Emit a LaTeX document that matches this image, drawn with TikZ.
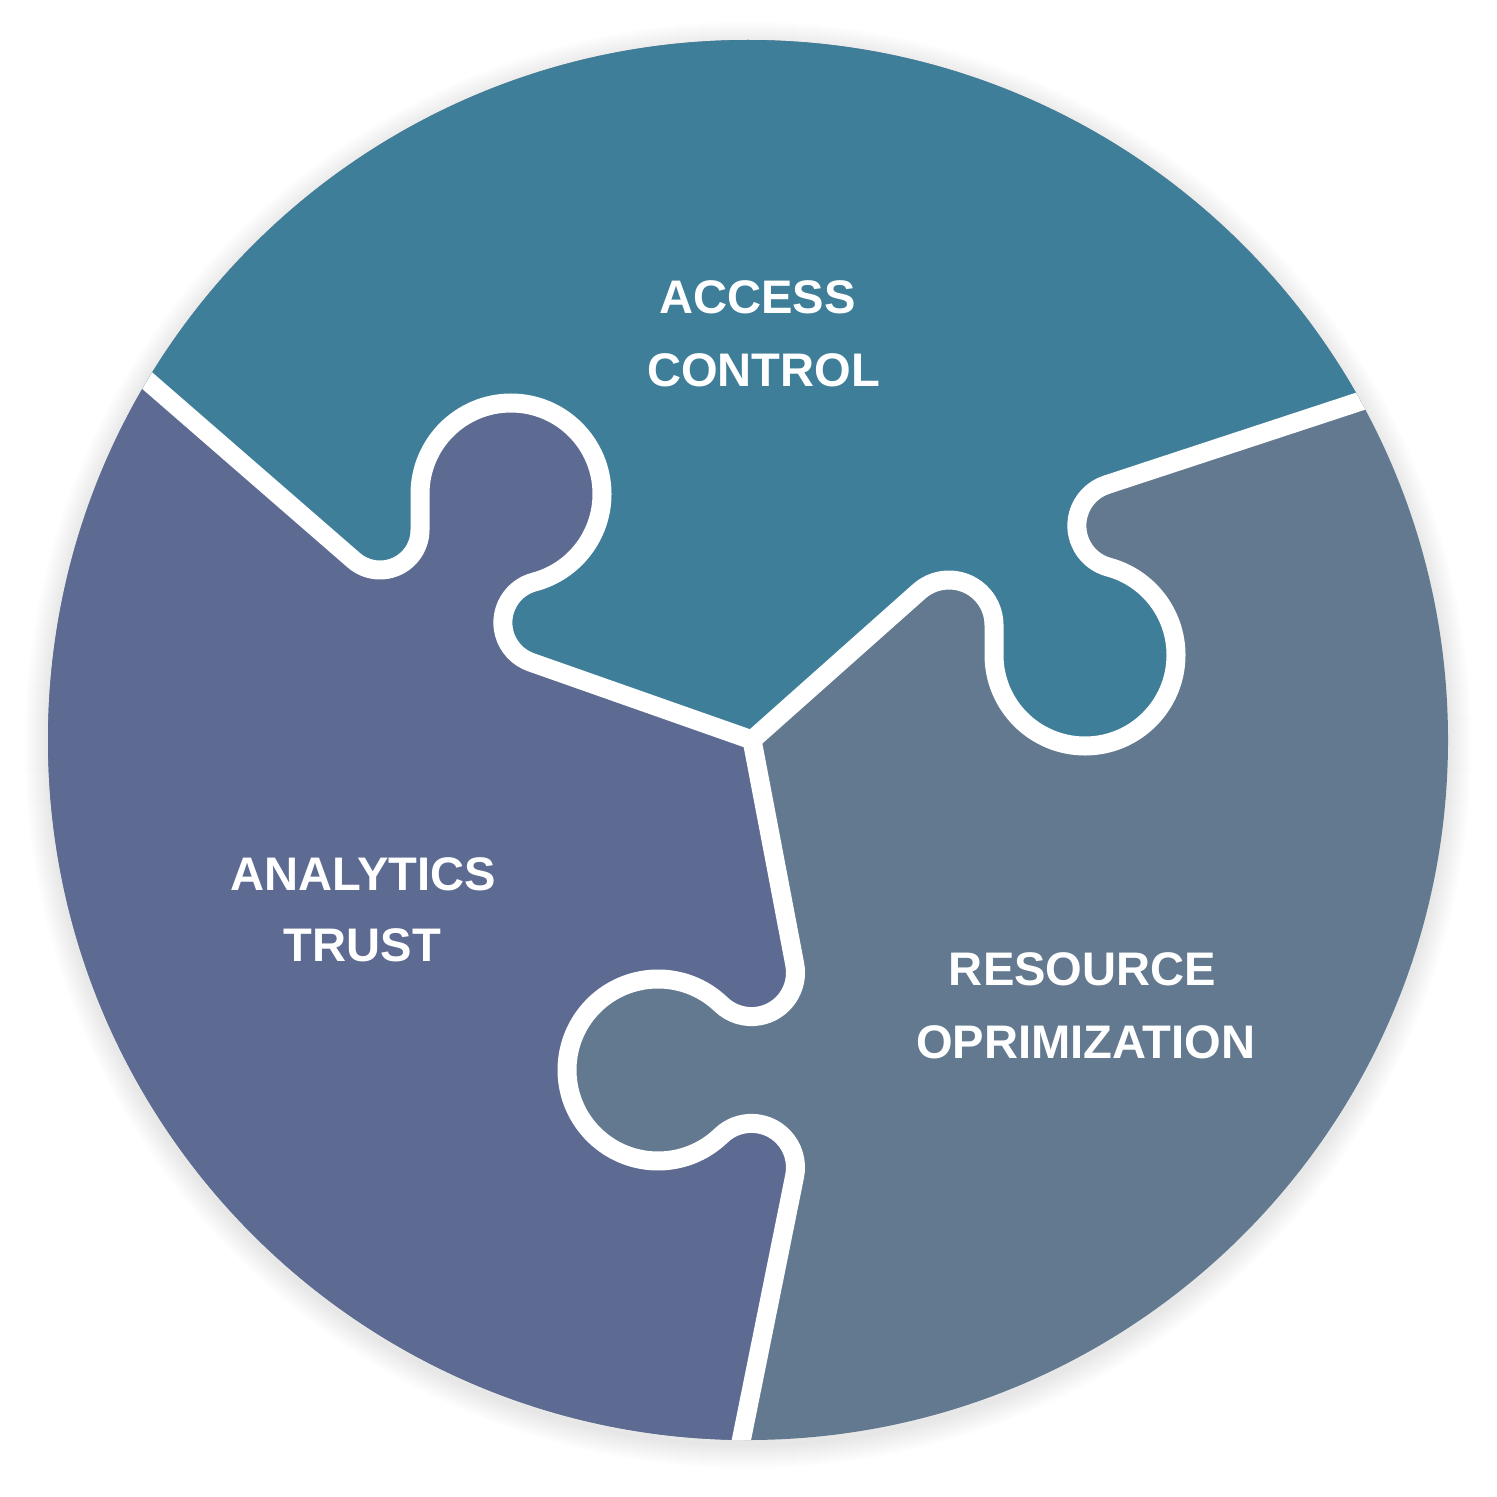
\documentclass[tikz,border=0pt]{standalone}
\usepackage{fontspec}
\setmainfont{Liberation Sans}
\usetikzlibrary{calc}
\definecolor{ctop}{RGB}{62,126,153}
\definecolor{cleft}{RGB}{93,106,146}
\definecolor{cright}{RGB}{98,121,144}
\definecolor{shadowc}{RGB}{60,70,85}
\begin{document}
\begin{tikzpicture}[x=0.01cm,y=-0.01cm,
  sep/.style={draw=white,line width=0.19cm,line join=round,line cap=round},
  lbl/.style={text=white,font=\bfseries\fontsize{13.4pt}{15pt}\selectfont,anchor=base,inner sep=0pt},
  lineA/.style={insert path={-- ($(S1)+(131:40)$) arc[start angle=131,end angle=0,radius=40] -- ($(K1)+(180:91)$) arc[start angle=180,end angle=435.25,radius=91] arc[start angle=255.25,end angle=109.38,radius=42] -- (J)}},
  lineB/.style={insert path={-- ($(S3)+(228.34:45)$) arc[start angle=228.34,end angle=360,radius=45] -- ($(K2)+(180:91)$) arc[start angle=180,end angle=-74.93,radius=91] arc[start angle=105.07,end angle=251.8,radius=43] -- (B1)}},
  lineC/.style={insert path={-- ($(S5)+(-10.78:44)$) arc[start angle=-10.78,end angle=133.83,radius=44] arc[start angle=-46.17,end angle=-313.83,radius=91] arc[start angle=226.17,end angle=371.4,radius=44] -- (C1)}}
]
\useasboundingbox (0,0) rectangle (1496,1497);
\fill[white] (0,0) rectangle (1496,1497);

\coordinate (O) at (748,740);
\coordinate (A0) at (82.1,324);
\coordinate (S1) at (380,530);
\coordinate (K1) at (511,494);
\coordinate (J) at (752,740);
\coordinate (S3) at (949,625);
\coordinate (K2) at (1085,655);
\coordinate (B1) at (1486.4,359.8);
\coordinate (S5) at (751.5,972.6);
\coordinate (C1) at (723.4,1528.9);

% soft shadow
\foreach \k in {1,...,24} {
  \fill[shadowc,opacity=0.005] (748,745) circle[radius={700+\k}];
}

\fill[cright] (O) circle[radius=700];
\begin{scope}
  \clip (O) circle[radius=700];
  \fill[ctop] (A0) [lineA] [lineB] -- (1600,360) -- (1600,-100) -- (-100,-100) -- (-100,324) -- cycle;
  \fill[cleft] (A0) [lineA] [lineC] -- (-100,1529) -- (-100,324) -- cycle;
  \draw[sep] (A0) [lineA];
  \draw[sep] (J) [lineB];
  \draw[sep] (J) [lineC];
\end{scope}

\node[lbl] (ac1) at (757.5,313.3) {ACCESS};
\node[lbl] (ac2) at (763.5,386.7) {CONTROL};
\node[lbl] (at1) at (363.3,890) {ANALYTICS};
\node[lbl] (at2) at (362.5,961.7) {TRUST};
\node[lbl] (ro1) at (1082.5,985) {RESOURCE};
\node[lbl] (ro2) at (1085.8,1058.3) {OPRIMIZATION};
\end{tikzpicture}
\end{document}
